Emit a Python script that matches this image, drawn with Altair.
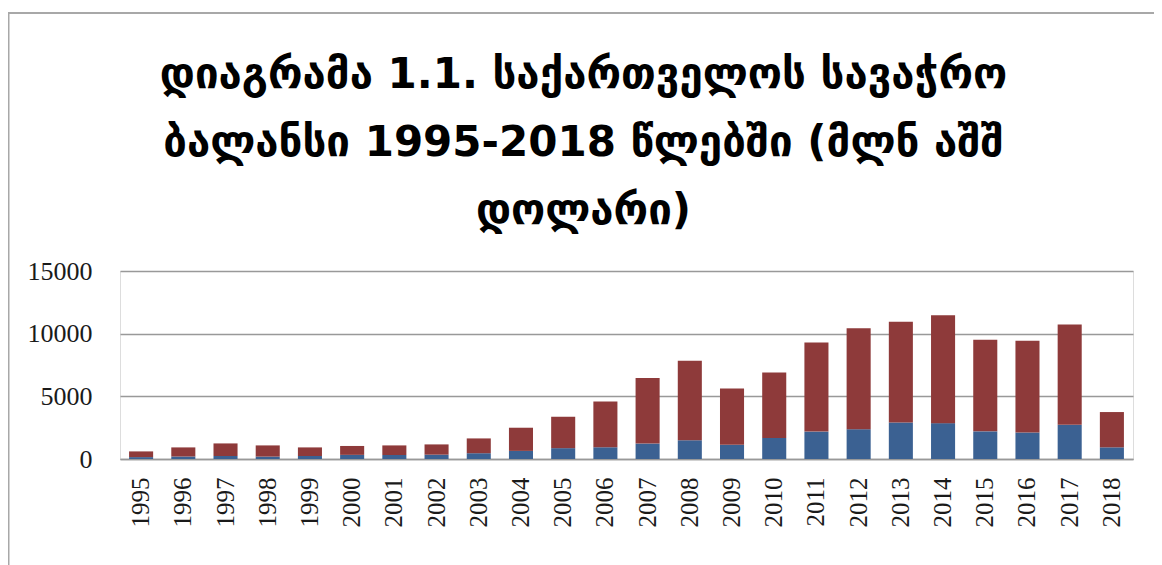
import altair as alt
import pandas as pd

years = [str(y) for y in range(1995, 2019)]
exports = [151, 199, 240, 192, 238, 330, 320, 346, 461, 647, 865, 936,
           1232, 1495, 1134, 1677, 2186, 2377, 2910, 2861, 2205, 2113, 2728, 930]
imports = [455, 726, 1003, 892, 687, 710, 764, 818, 1181, 1848, 2506, 3654,
           5224, 6340, 4493, 5225, 7107, 8063, 8033, 8616, 7301, 7315, 8000, 2816]
series = ["ექსპორტი", "იმპორტი"]
colors = ["#3B6192", "#8E3A3A"]
y_ticks = [0, 5000, 10000, 15000]
title_lines = ["დიაგრამა 1.1. საქართველოს სავაჭრო",
               "ბალანსი 1995-2018 წლებში (მლნ აშშ",
               "დოლარი)"]

rows = []
for i, yr in enumerate(years):
    rows.append({"year": yr, "series": series[0], "value": exports[i], "ord": 0})
    rows.append({"year": yr, "series": series[1], "value": imports[i], "ord": 1})
df = pd.DataFrame(rows)

W, H = 1013, 188

bars = alt.Chart(df).mark_bar().encode(
    x=alt.X("year:N", sort=years, title=None,
            scale=alt.Scale(paddingInner=0.43, paddingOuter=0.215),
            axis=alt.Axis(labelAngle=-90, labelFont="Liberation Serif",
                          labelFontSize=25, labelColor="#1a1a1a",
                          labelPadding=18, ticks=False, domainColor="#999999",
                          domainWidth=1.5, grid=False)),
    y=alt.Y("value:Q", stack="zero", title=None,
            scale=alt.Scale(domain=[0, 15000], nice=False),
            axis=alt.Axis(values=y_ticks, format="d", labelFont="Liberation Serif",
                          labelFontSize=26, labelColor="#1a1a1a", labelPadding=28,
                          ticks=False, domain=False, gridColor="#999999",
                          gridWidth=1.5)),
    color=alt.Color("series:N", scale=alt.Scale(domain=series, range=colors),
                    legend=None),
    order=alt.Order("ord:Q"),
)

frame = alt.Chart(alt.Data(values=[{"a": 1}])).mark_rect(
    fill="white", fillOpacity=0, stroke="#a8a8a8", strokeWidth=2
).encode(
    x=alt.value(-111.5), x2=alt.value(1080), y=alt.value(-258), y2=alt.value(420)
)

chart = alt.layer(frame, bars).properties(
    width=W, height=H,
    title=alt.TitleParams(text=title_lines, font="DejaVu Sans", fontSize=42,
                          fontWeight="bold", color="#000000", lineHeight=68,
                          anchor="middle", frame="group", dx=-43, offset=-221),
    autosize=alt.AutoSizeParams(type="none"),
    padding={"left": 112, "top": 263, "right": 21, "bottom": 106},
).configure_view(stroke=None).configure(background="white")

chart.save("out.html", embed_options={"renderer": "svg", "actions": False})
